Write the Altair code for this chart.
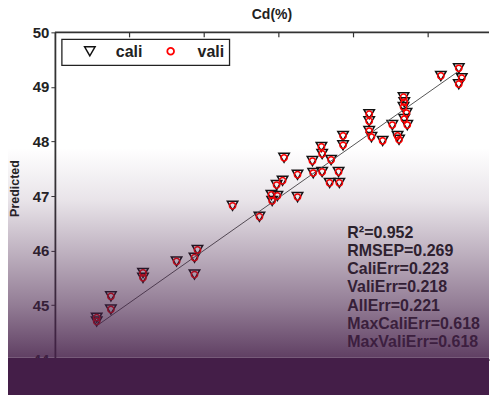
import altair as alt
import pandas as pd

# measured (x) and predicted (y) values
measured = [44.56, 44.56, 44.75, 44.75, 45.18, 45.18, 45.63, 45.87, 45.91, 45.87,
            46.38, 46.74, 47.07, 46.97, 47.05, 46.90, 46.98, 46.91, 47.25, 47.25,
            47.45, 47.57, 47.58, 47.70, 47.46, 47.58, 47.68, 47.80, 47.81, 47.86,
            47.86, 48.21, 48.21, 48.21, 48.24, 48.39, 48.52, 48.59, 48.61, 48.67,
            48.68, 48.67, 48.71, 48.68, 48.72, 49.17, 49.41, 49.45, 49.41]
predicted = [44.77, 44.70, 45.16, 44.92, 45.59, 45.50, 45.80, 45.87, 46.01, 45.56,
             46.82, 46.62, 47.70, 47.20, 47.28, 47.02, 47.00, 46.91, 47.39, 46.98,
             47.64, 47.90, 47.77, 47.66, 47.42, 47.44, 47.24, 47.44, 47.24, 48.10,
             47.93, 48.50, 48.37, 48.19, 48.08, 48.01, 48.30, 48.10, 48.03, 48.81,
             48.72, 48.63, 48.52, 48.41, 48.30, 49.20, 49.34, 49.16, 49.05]
series = ["cali", "vali"]
series_shapes = ["triangle-down", "circle"]
series_colors = ["#111111", "#ff0000"]
fit_x = [44.56, 49.45]
fit_y = [44.62, 49.33]
x_ticks = [44, 45, 46, 47, 48, 49]
top_ticks = [45, 46, 47, 48, 49]
y_ticks = [44, 45, 46, 47, 48, 49, 50]
stats_lines = ["R²=0.952", "RMSEP=0.269", "CaliErr=0.223", "ValiErr=0.218",
               "AllErr=0.221", "MaxCaliErr=0.618", "MaxValiErr=0.618"]

FONT = "Liberation Sans"
X_DOM = [44, 49.815]
Y_DOM = [44, 50]
W, H = 435, 328

pts = pd.DataFrame({"Measured": measured, "Predicted": predicted})
fit = pd.DataFrame({"Measured": fit_x, "Predicted": fit_y})
ticks = pd.DataFrame({"Measured": top_ticks})
one = pd.DataFrame({"k": [0]})

xs = alt.Scale(domain=X_DOM, nice=False, zero=False)
ys = alt.Scale(domain=Y_DOM, nice=False, zero=False)

cali = alt.Chart(pts).mark_point(shape=series_shapes[0], filled=False, size=110,
                                 strokeWidth=1.5, color=series_colors[0], opacity=1).encode(
    x=alt.X("Measured:Q", scale=xs,
            axis=alt.Axis(title=None, values=x_ticks, grid=False, format="d",
                          labelFontSize=15, labelFontWeight="bold", labelFont=FONT,
                          labelColor="#222", tickSize=4)),
    y=alt.Y("Predicted:Q", scale=ys,
            axis=alt.Axis(title="Predicted", values=y_ticks, grid=False, format="d",
                          titleFontSize=12.5, titleFontWeight="bold", titleFont=FONT,
                          titleColor="#222", titleX=-40, titleY=156,
                          titleBaseline="middle", titleAlign="center",
                          labelFontSize=15, labelFontWeight="bold", labelFont=FONT,
                          labelColor="#222", tickSize=4)),
)

line = alt.Chart(fit).mark_line(color="#555", strokeWidth=1).encode(
    x=alt.X("Measured:Q", scale=xs),
    y=alt.Y("Predicted:Q", scale=ys),
)

vali = alt.Chart(pts).mark_point(shape=series_shapes[1], filled=False, size=40,
                                 strokeWidth=1.5, color=series_colors[1], opacity=1).encode(
    x=alt.X("Measured:Q", scale=xs),
    y=alt.Y("Predicted:Q", scale=ys),
)

frame_top = alt.Chart(one).mark_rule(color="#333", strokeWidth=1.8).encode(
    x=alt.value(0), x2=alt.value(W), y=alt.value(0))

top_tick_marks = alt.Chart(ticks).mark_rule(color="#333", strokeWidth=1.2).encode(
    x=alt.X("Measured:Q", scale=xs),
    y=alt.value(0), y2=alt.value(5),
)

leg_box = alt.Chart(one).mark_rect(fill="white", stroke="#222", strokeWidth=1.3).encode(
    x=alt.value(7), x2=alt.value(175), y=alt.value(7), y2=alt.value(33))
leg_sym1 = alt.Chart(one).mark_point(shape=series_shapes[0], filled=False, size=110,
                                     strokeWidth=1.5, color=series_colors[0], opacity=1).encode(
    x=alt.value(35), y=alt.value(19))
leg_txt1 = alt.Chart(one).mark_text(text=series[0], align="left", baseline="middle",
                                    font=FONT, fontSize=16, fontWeight="bold", color="#222").encode(
    x=alt.value(61), y=alt.value(20))
leg_sym2 = alt.Chart(one).mark_point(shape=series_shapes[1], filled=False, size=45,
                                     strokeWidth=1.8, color=series_colors[1], opacity=1).encode(
    x=alt.value(116), y=alt.value(19))
leg_txt2 = alt.Chart(one).mark_text(text=series[1], align="left", baseline="middle",
                                    font=FONT, fontSize=16, fontWeight="bold", color="#222").encode(
    x=alt.value(143), y=alt.value(20))

stats = alt.Chart(one).mark_text(
    text="\n".join(stats_lines), lineBreak="\n", lineHeight=18.2,
    align="left", baseline="top", font=FONT, fontSize=16, fontWeight="bold",
    color="#222",
).encode(x=alt.value(293), y=alt.value(193))

fade = alt.Chart(one).mark_rect(
    fill=alt.Gradient(
        gradient="linear", x1=0, x2=0, y1=0, y2=1,
        stops=[alt.GradientStop(offset=0.0, color="rgba(68,30,72,0)"),
               alt.GradientStop(offset=0.25, color="rgba(68,30,72,0.12)"),
               alt.GradientStop(offset=0.5, color="rgba(68,30,72,0.35)"),
               alt.GradientStop(offset=0.75, color="rgba(68,30,72,0.58)"),
               alt.GradientStop(offset=1.0, color="rgba(68,30,72,0.85)")]),
).encode(x=alt.value(-47), x2=alt.value(435), y=alt.value(116), y2=alt.value(326))

band = alt.Chart(one).mark_rect(fill="#441e48").encode(
    x=alt.value(-47), x2=alt.value(435), y=alt.value(326), y2=alt.value(371))

chart = alt.layer(
    cali, line, vali, frame_top, top_tick_marks,
    leg_box, leg_sym1, leg_txt1, leg_sym2, leg_txt2,
    stats, fade, band,
).properties(
    width=W, height=H,
    title=alt.Title("Cd(%)", fontSize=14, fontWeight="bold", font=FONT,
                    color="#222", offset=3, frame="group"),
    padding=0,
).configure_view(stroke=None).configure_axis(
    domainColor="#333", domainWidth=1.8, tickColor="#333")

chart.save("out.html", embed_options={"renderer": "svg", "actions": False})
